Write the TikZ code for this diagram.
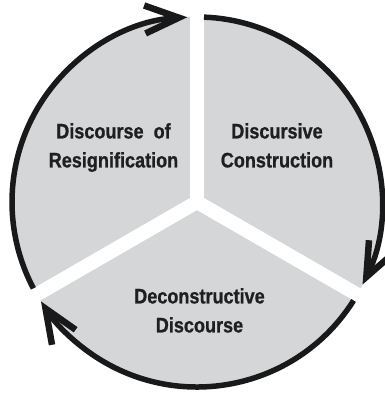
\documentclass[tikz,border=0pt]{standalone}
\usepackage{fontspec}
\setmainfont{Liberation Sans}[FakeStretch=0.86, BoldFeatures={FakeBold=0.8}]
\usepackage{tikz}
\usetikzlibrary{arrows.meta}
\definecolor{sectorgray}{RGB}{213,214,216}
\tikzset{
  phase/.style={inner sep=0pt, anchor=north, align=center,
    font=\fontsize{21}{29}\selectfont\bfseries, text=black!88},
  cycle arc/.style={line width=5.5pt, black!90,
    -{Straight Barb[sharp, length=34pt, width=28pt, line width=6.5pt]}}
}
\begin{document}
\begin{tikzpicture}[x=1pt,y=1pt]
		\useasboundingbox (-197,-191) rectangle (187,202);

		\fill[sectorgray] (0,0) circle[radius=185];
		\foreach \a in {90,210,330}
			\draw[white, line width=14pt] (0,0) -- (\a:195);

		\draw[cycle arc] (87.83:185) arc (87.83:-26.5:185);
		\draw[cycle arc] (-32.17:185) arc (-32.17:-147.5:185);
		\draw[cycle arc] (207.83:185) arc (207.83:93:185);

		\node (construction) at (80, 79) [phase] {Discursive\\Construction};
		\node (resignification) at (-83.5, 79) [phase] {Discourse\ \ of\\Resignification};
		\node (deconstruction) at (2.5, -86) [phase] {Deconstructive\\Discourse};
	\end{tikzpicture}
\end{document}
